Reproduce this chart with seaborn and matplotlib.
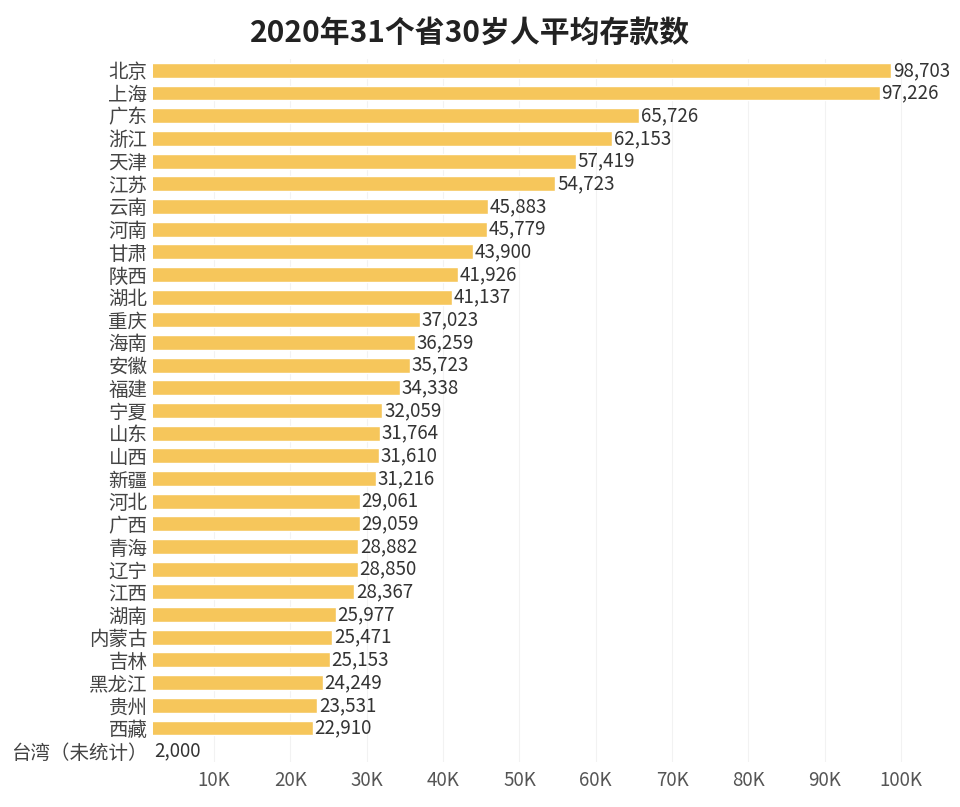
import matplotlib
matplotlib.use('Agg')
import matplotlib.pyplot as plt
import seaborn as sns
import pandas as pd

provinces = ['北京', '上海', '广东', '浙江', '天津', '江苏', '云南', '河南', '甘肃', '陕西',
             '湖北', '重庆', '海南', '安徽', '福建', '宁夏', '山东', '山西', '新疆', '河北',
             '广西', '青海', '辽宁', '江西', '湖南', '内蒙古', '吉林', '黑龙江', '贵州', '西藏',
             '台湾（未统计）']
savings = [98703, 97226, 65726, 62153, 57419, 54723, 45883, 45779, 43900, 41926,
           41137, 37023, 36259, 35723, 34338, 32059, 31764, 31610, 31216, 29061,
           29059, 28882, 28850, 28367, 25977, 25471, 25153, 24249, 23531, 22910,
           2000]
x_ticks = [10000, 20000, 30000, 40000, 50000, 60000, 70000, 80000, 90000, 100000]
x_tick_labels = ['10K', '20K', '30K', '40K', '50K', '60K', '70K', '80K', '90K', '100K']

df = pd.DataFrame({'province': provinces, 'savings': savings})

sns.set_style('white')
plt.rcParams['font.family'] = ['Noto Sans CJK SC', 'DejaVu Sans']

fig = plt.figure(figsize=(9.6, 8.07), dpi=100)
ax = fig.add_axes([153 / 960, 1 - 762 / 807, (950 - 153) / 960, (762 - 59) / 807])

sns.barplot(x='savings', y='province', data=df, color='#F6C65B', width=0.66,
            saturation=1, ax=ax)

# 数值标签
for i, v in enumerate(savings):
    ax.text(v + 200, i, f'{v:,}', va='center', ha='left', fontsize=13.5, color='#333333')

ax.set_xlim(2000, 106400)
ax.set_xticks(x_ticks)
ax.set_xticklabels(x_tick_labels, fontsize=13.5, color='#555555')
ax.tick_params(axis='y', labelsize=14, labelcolor='#444444', length=0, pad=4)
ax.tick_params(axis='x', length=0, pad=6)
ax.set_xlabel('')
ax.set_ylabel('')
ax.grid(axis='x', color='#f2f2f2', linewidth=0.8)
ax.set_axisbelow(True)
for s in ax.spines.values():
    s.set_visible(False)

fig.text(0.49, 1 - 33 / 807, '2020年31个省30岁人平均存款数', ha='center', va='center',
         fontsize=21.5, fontweight='heavy', color='#222222')

fig.savefig('out.png', dpi=100)
